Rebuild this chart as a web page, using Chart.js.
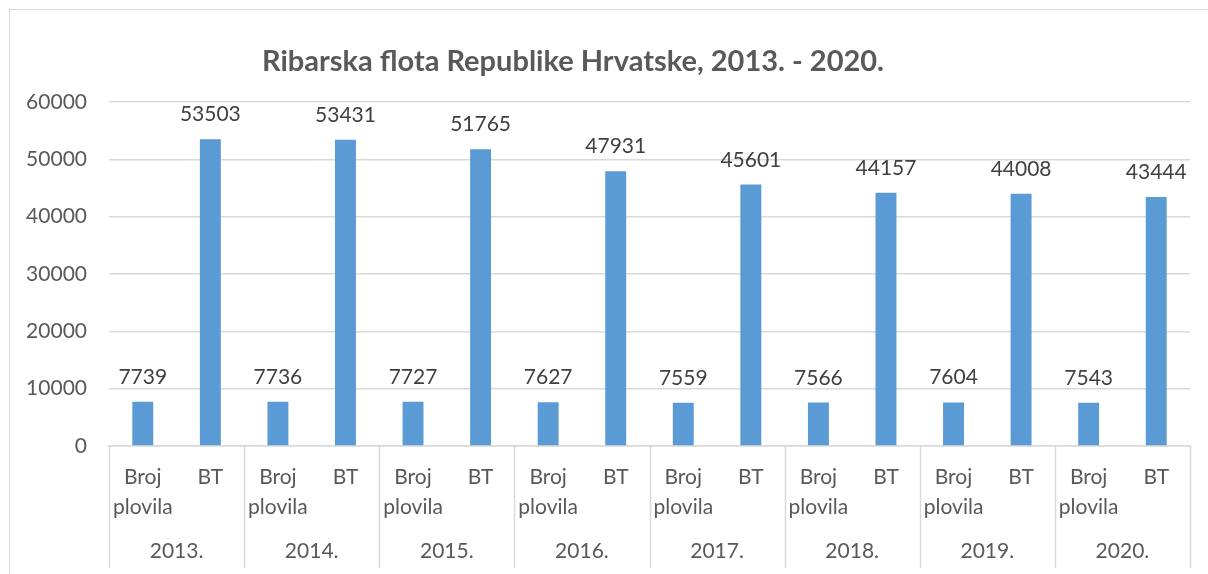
<!DOCTYPE html>
<html>
<head>
<meta charset="utf-8">
<script src="https://cdn.jsdelivr.net/npm/chart.js@4.4.1/dist/chart.umd.min.js"></script>
<style>
  html, body { margin: 0; padding: 0; background: #fff; overflow: hidden; }
  #wrap { position: relative; width: 1208px; height: 574px; }
  #frame { position: absolute; left: 9px; top: 9px; width: 1300px; height: 700px;
           border: 1.5px solid #d9d9d9; box-sizing: border-box; }
  #title { position: absolute; left: 0; width: 1146px; top: 42px; line-height: 36px; text-align: center;
           font-family: Lato, "Open Sans", sans-serif; font-weight: bold; font-size: 29px; color: #595959; }
  canvas { position: absolute; left: 0; top: 0; }
</style>
</head>
<body>
<div id="wrap">
  <div id="frame"></div>
  <canvas id="chart" width="1208" height="574"></canvas>
  <div id="title">Ribarska flota Republike Hrvatske, 2013. - 2020.</div>
</div>
<script>
/* ====== Data ====== */
const years = ["2013.", "2014.", "2015.", "2016.", "2017.", "2018.", "2019.", "2020."];
const measures = [["Broj", "plovila"], "BT"];
const brojPlovila = [7739, 7736, 7727, 7627, 7559, 7566, 7604, 7543];
const bt = [53503, 53431, 51765, 47931, 45601, 44157, 44008, 43444];
const yTicks = [0, 10000, 20000, 30000, 40000, 50000, 60000];

// one bar per (year, measure)
const labels = [];
const values = [];
years.forEach((y, i) => {
  labels.push(measures[0], measures[1]);
  values.push(brojPlovila[i], bt[i]);
});

const FONT = "Lato, 'Open Sans', sans-serif";
const GRID = "#d9d9d9";

/* ====== Value labels above bars ====== */
const valueLabels = {
  id: "valueLabels",
  afterDatasetsDraw(chart) {
    const ctx = chart.ctx;
    const meta = chart.getDatasetMeta(0);
    ctx.save();
    ctx.font = "21px " + FONT;
    ctx.fillStyle = "#404040";
    ctx.textAlign = "center";
    ctx.textBaseline = "alphabetic";
    meta.data.forEach((bar, i) => {
      ctx.fillText(String(values[i]), bar.x, bar.y - 18);
    });
    ctx.restore();
  }
};

/* ====== Group separators under the axis ====== */
const groupLines = {
  id: "groupLines",
  afterDraw(chart) {
    const x2 = chart.scales.x2;
    const ctx = chart.ctx;
    const w = (x2.right - x2.left) / years.length;
    ctx.save();
    ctx.strokeStyle = GRID;
    ctx.lineWidth = 1.5;
    for (let i = 0; i <= years.length; i++) {
      const px = Math.round(x2.left + i * w) + 0.5;
      ctx.beginPath();
      ctx.moveTo(px, chart.chartArea.bottom);
      ctx.lineTo(px, x2.bottom - 6);
      ctx.stroke();
    }
    ctx.restore();
  }
};

new Chart(document.getElementById("chart"), {
  type: "bar",
  data: {
    labels: labels,
    datasets: [{
      data: values,
      backgroundColor: "#5b9bd5",
      borderWidth: 0,
      barPercentage: 0.31,
      categoryPercentage: 1.0
    }]
  },
  options: {
    responsive: false,
    animation: false,
    layout: { padding: { top: 102, right: 18, left: 0, bottom: 0 } },
    plugins: { legend: { display: false }, tooltip: { enabled: false } },
    scales: {
      y: {
        min: 0, max: 60000,
        afterFit: s => { s.width = 109; },
        afterBuildTicks: s => { s.ticks = yTicks.map(v => ({ value: v })); },
        grid: { color: GRID, lineWidth: 1.5, drawTicks: false },
        border: { display: false },
        ticks: { padding: 22, color: "#595959", font: { family: FONT, size: 21 },
                 callback: v => String(v) }
      },
      x: {
        position: "bottom",
        afterFit: s => { s.height = 80; },
        grid: { display: false, drawTicks: false },
        border: { display: true, color: GRID, width: 1.5 },
        ticks: { padding: 16, color: "#595959", maxRotation: 0, autoSkip: false,
                 font: { family: FONT, size: 21, lineHeight: 30 / 21 } }
      },
      x2: {
        type: "category",
        labels: years,
        position: "bottom",
        offset: true,
        afterFit: s => { s.height = 48; },
        grid: { display: false, drawTicks: false },
        border: { display: false },
        ticks: { padding: 10, color: "#595959", maxRotation: 0, autoSkip: false,
                 font: { family: FONT, size: 21, lineHeight: 30 / 21 } }
      }
    }
  },
  plugins: [valueLabels, groupLines]
});
</script>
</body>
</html>
